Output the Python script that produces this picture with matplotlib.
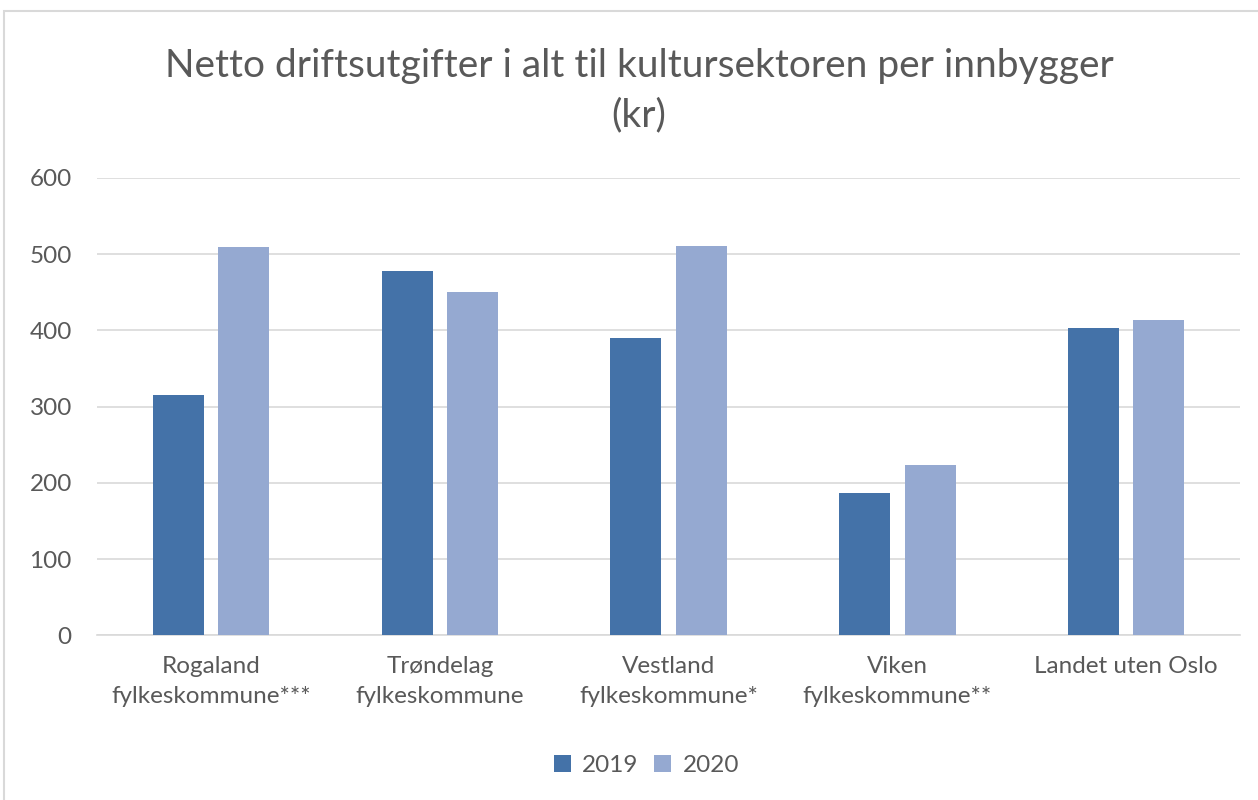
import numpy as np
import matplotlib.pyplot as plt
import matplotlib.patches as mpatches

categories = ['Rogaland\nfylkeskommune***', 'Trøndelag\nfylkeskommune',
              'Vestland\nfylkeskommune*', 'Viken\nfylkeskommune**',
              'Landet uten Oslo']
values_2019 = [315, 478, 390, 186, 403]
values_2020 = [509, 451, 511, 224, 414]
series_labels = ['2019', '2020']
series_colors = ['#4472a8', '#95a9d1']

plt.rcParams['font.family'] = ['Lato', 'DejaVu Sans']
text_color = '#595959'

fig = plt.figure(figsize=(12.58, 8), dpi=100)
ax = fig.add_axes([0.077, 0.206, 0.909, 0.5715])

# ramme rundt hele diagrammet
fig.patches.append(mpatches.Rectangle((4 / 1258, -0.01), 1.02, 1 - 11 / 800 + 0.01,
                                      transform=fig.transFigure, fill=False,
                                      edgecolor='#d9d9d9', linewidth=1.5))

x = np.arange(len(categories))
width = 0.223
offset = 0.143
ax.bar(x - offset, values_2019, width, color=series_colors[0], label=series_labels[0], zorder=3)
ax.bar(x + offset, values_2020, width, color=series_colors[1], label=series_labels[1], zorder=3)

ax.set_xlim(-0.5, len(categories) - 0.5)
ax.set_ylim(0, 600)
ax.set_yticks(range(0, 601, 100))
ax.yaxis.grid(True, color='#d9d9d9', linewidth=1.2, zorder=0)
ax.set_axisbelow(True)
for s in ['top', 'right', 'left']:
    ax.spines[s].set_visible(False)
ax.spines['bottom'].set_color('#d9d9d9')
ax.spines['bottom'].set_linewidth(1.2)

ax.set_xticks(x)
ax.set_xticklabels(categories, fontsize=17.5, color=text_color, linespacing=1.55)
ax.tick_params(axis='x', length=0, pad=15)
ax.tick_params(axis='y', length=0, pad=18, labelsize=17.5, labelcolor=text_color)

fig.text(0.508, 0.917, 'Netto driftsutgifter i alt til kultursektoren per innbygger',
         ha='center', va='center', fontsize=28, color=text_color)
fig.text(0.508, 0.856, '(kr)', ha='center', va='center', fontsize=28, color=text_color)

fig.legend(loc='center', bbox_to_anchor=(0.514, 0.043), ncol=2, frameon=False,
           fontsize=17.5, labelcolor=text_color, handlelength=0.7, handleheight=0.7,
           handletextpad=0.45, columnspacing=0.65)

fig.savefig('out.png', dpi=100)
